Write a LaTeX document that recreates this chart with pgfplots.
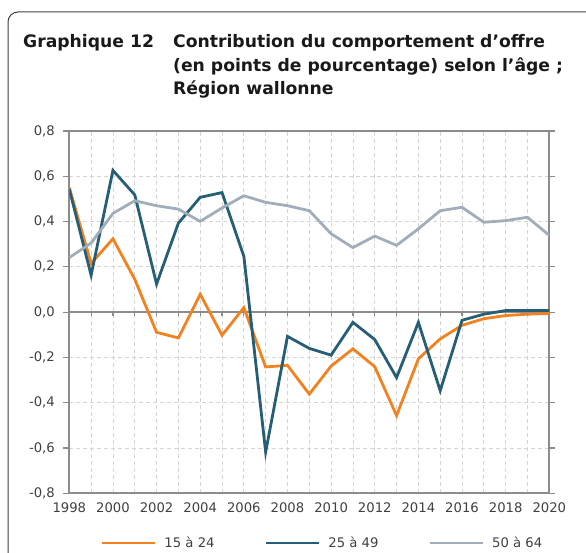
\documentclass[border=0pt]{standalone}
\usepackage{fontspec}
\setmainfont{DejaVu Sans}
\usepackage{pgfplots}
\pgfplotsset{compat=1.18}
\definecolor{corange}{RGB}{242,130,32}
\definecolor{cteal}{RGB}{38,94,117}
\definecolor{cgrey}{RGB}{162,173,186}
\definecolor{caxis}{RGB}{140,140,140}
\definecolor{cgrid}{RGB}{212,212,212}
\definecolor{ctext}{RGB}{64,64,64}

\pgfplotstableread{
year y1524 y2549 y5064
1998 0.550 0.543 0.241
1999 0.215 0.163 0.305
2000 0.324 0.626 0.436
2001 0.145 0.518 0.492
2002 -0.089 0.124 0.470
2003 -0.114 0.393 0.455
2004 0.079 0.507 0.401
2005 -0.102 0.528 0.460
2006 0.020 0.247 0.514
2007 -0.242 -0.618 0.485
2008 -0.235 -0.107 0.470
2009 -0.362 -0.160 0.448
2010 -0.238 -0.190 0.346
2011 -0.162 -0.045 0.285
2012 -0.241 -0.121 0.336
2013 -0.457 -0.289 0.295
2014 -0.206 -0.045 0.368
2015 -0.118 -0.347 0.448
2016 -0.058 -0.036 0.463
2017 -0.029 -0.009 0.397
2018 -0.015 0.007 0.404
2019 -0.009 0.007 0.419
2020 -0.006 0.007 0.339
}\datatable

\begin{document}
\begin{tikzpicture}
\useasboundingbox (0pt,0pt) rectangle (586pt,-553pt);
\begin{scope}
\clip (0pt,0pt) rectangle (586pt,-553pt);
\draw[rounded corners=10pt, black!75, line width=1pt] (8pt,-12pt) rectangle (620pt,-600pt);
\end{scope}
\begin{scope}[font=\bfseries\fontsize{17.2}{20}\selectfont, text=black!90]
\node[anchor=base west, inner sep=0pt] at (23pt,-48pt) {Graphique 12};
\node[anchor=base west, inner sep=0pt] at (173pt,-48pt) {Contribution du comportement d’offre};
\node[anchor=base west, inner sep=0pt] at (173pt,-72pt) {(en points de pourcentage) selon l’âge ;};
\node[anchor=base west, inner sep=0pt] at (173pt,-95pt) {Région wallonne};
\end{scope}
\begin{axis}[
  at={(69.3pt,-493.3pt)}, anchor=south west,
  width=480pt, height=362.3pt, scale only axis,
  xmin=1998, xmax=2020, ymin=-0.8, ymax=0.8,
  xtick={1998,2000,...,2020},
  minor xtick={1999,2001,...,2019},
  ytick={-0.8,-0.6,-0.4,-0.2,0,0.2,0.4,0.6,0.8},
  grid=both,
  major grid style={cgrid, dash pattern=on 4pt off 3pt, line width=0.8pt},
  minor grid style={cgrid, dash pattern=on 4pt off 3pt, line width=0.8pt},
  axis line style={caxis, line width=1.8pt},
  xtick style={draw=none},
  ytick style={caxis, line width=1.2pt},
  tick align=outside, major tick length=6pt,
  xticklabel style={font=\fontsize{13.2}{15}\selectfont, text=ctext, /pgf/number format/1000 sep={}, /pgf/number format/assume math mode=true},
  yticklabel style={xshift=-5pt, font=\fontsize{13.2}{15}\selectfont, text=ctext, /pgf/number format/.cd, use comma, fixed, fixed zerofill, precision=1, assume math mode=true},
  legend style={draw=none, fill=none, at={(0.5275,-0.137)}, anchor=center, font=\fontsize{13.2}{15}\selectfont, text=ctext},
  legend columns=3,
  legend cell align=left,
  /tikz/every even column/.append style={column sep=48pt},
  /tikz/every odd column/.append style={column sep=6pt},
  legend image code/.code={\draw[#1] (0pt,0pt) -- (53pt,0pt);},
]
\draw[caxis, line width=1.8pt] (axis cs:1998,0) -- (axis cs:2020,0);
\pgfplotsinvokeforeach{1999,...,2019}{\draw[caxis, line width=1.2pt] (axis cs:#1,0) -- ++(0pt,-4pt);}
\addplot[corange, line width=2.8pt, no markers] table[x=year, y=y1524] {\datatable};
\addlegendentry{15 à 24}
\addplot[cteal, line width=2.8pt, no markers] table[x=year, y=y2549] {\datatable};
\addlegendentry{25 à 49}
\addplot[cgrey, line width=2.8pt, no markers] table[x=year, y=y5064] {\datatable};
\addlegendentry{50 à 64}
\end{axis}
\end{tikzpicture}
\end{document}
